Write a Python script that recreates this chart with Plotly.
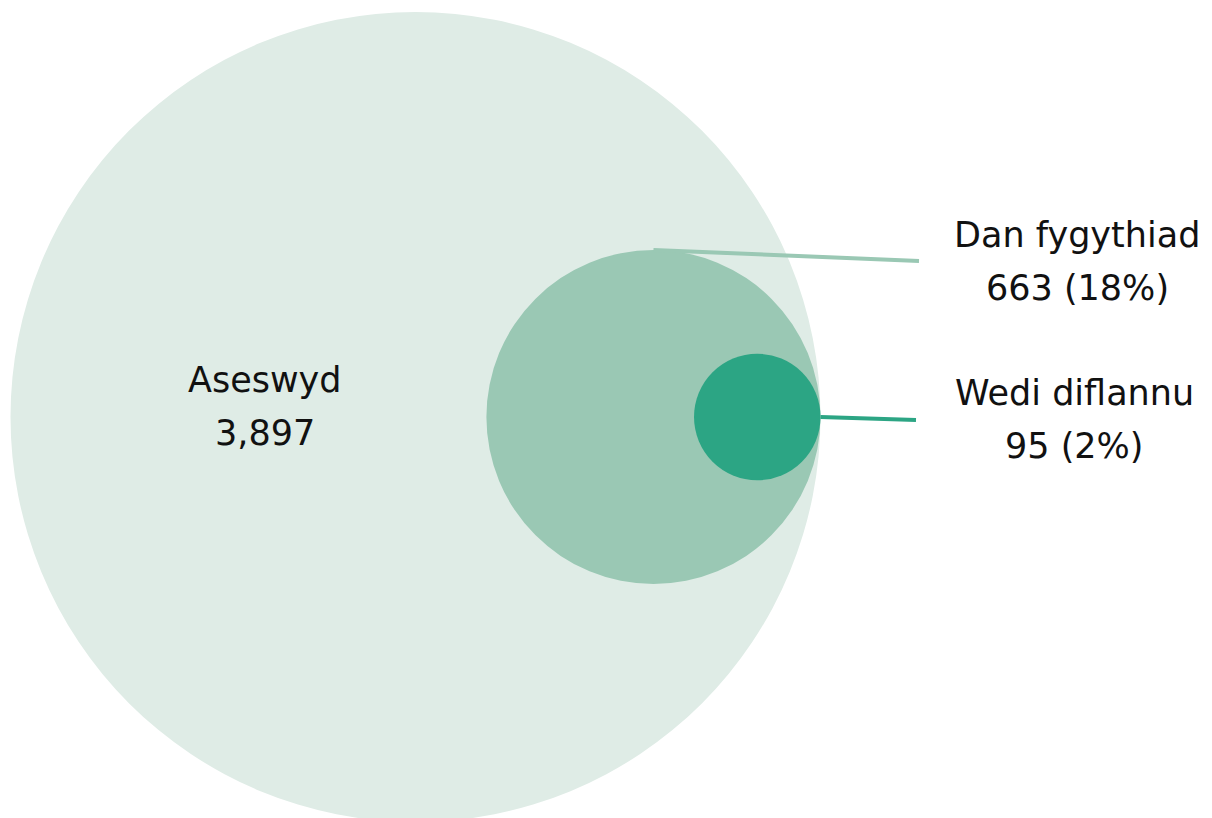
import math
import plotly.graph_objects as go

# ---- data ----
labels = ["Aseswyd", "Dan fygythiad", "Wedi diflannu"]
values = [3897, 663, 95]
percents = [None, 18, 2]

# ---- style / layout constants ----
colors = ["#dfece6", "#9ac8b4", "#2ca584"]
W, H = 1212, 818
OFF = 8              # page body margin; axis ranges compensate so units = page px
R_MAX = 405          # radius of the largest circle (px units)
RIGHT_EDGE = 820.5   # circles share a common right edge
CY = 417             # common vertical centre
FONT = "DejaVu Sans"
FS = 35

radii = [R_MAX * math.sqrt(v / values[0]) for v in values]
centers = [RIGHT_EDGE - r for r in radii]

fig = go.Figure()
shapes = []
for cx, r, c in zip(centers, radii, colors):
    shapes.append(dict(type="circle", xref="x", yref="y",
                       x0=cx - r, x1=cx + r, y0=CY - r, y1=CY + r,
                       fillcolor=c, line=dict(width=0), layer="below"))

# label anchor positions (px units)
label_x = [265, 1077, 1074]
line1_y = [380, 235, 393]
line2_y = [433, 288, 446]
line_end_x = [None, 919, 916]
line_end_y = [None, 261, 420]

# leader lines
shapes.append(dict(type="line", xref="x", yref="y",
                   x0=centers[1], y0=CY - radii[1], x1=line_end_x[1], y1=line_end_y[1],
                   line=dict(color=colors[1], width=4)))
shapes.append(dict(type="line", xref="x", yref="y",
                   x0=centers[2] + radii[2], y0=CY, x1=line_end_x[2], y1=line_end_y[2],
                   line=dict(color=colors[2], width=4)))

def fmt(v):
    return f"{v:,}"

texts2 = [fmt(values[0]),
          f"{fmt(values[1])} ({percents[1]}%)",
          f"{fmt(values[2])} ({percents[2]}%)"]

annotations = []
for i in range(3):
    for t, y in ((labels[i], line1_y[i]), (texts2[i], line2_y[i])):
        annotations.append(dict(x=label_x[i], y=y, text=t, xref="x", yref="y",
                                showarrow=False, xanchor="center", yanchor="middle",
                                font=dict(family=FONT, size=FS, color="#111111")))

# invisible trace to set up axes
fig.add_trace(go.Scatter(x=[OFF, W + OFF], y=[OFF, H + OFF], mode="markers",
                         marker=dict(opacity=0), hoverinfo="skip", showlegend=False))

fig.update_layout(
    width=W, height=H,
    margin=dict(l=0, r=0, t=0, b=0),
    paper_bgcolor="white", plot_bgcolor="white",
    shapes=shapes, annotations=annotations,
    xaxis=dict(range=[OFF, W + OFF], visible=False, fixedrange=True),
    yaxis=dict(range=[H + OFF, OFF], visible=False, fixedrange=True),
    showlegend=False,
)

fig.write_html("out.html")
